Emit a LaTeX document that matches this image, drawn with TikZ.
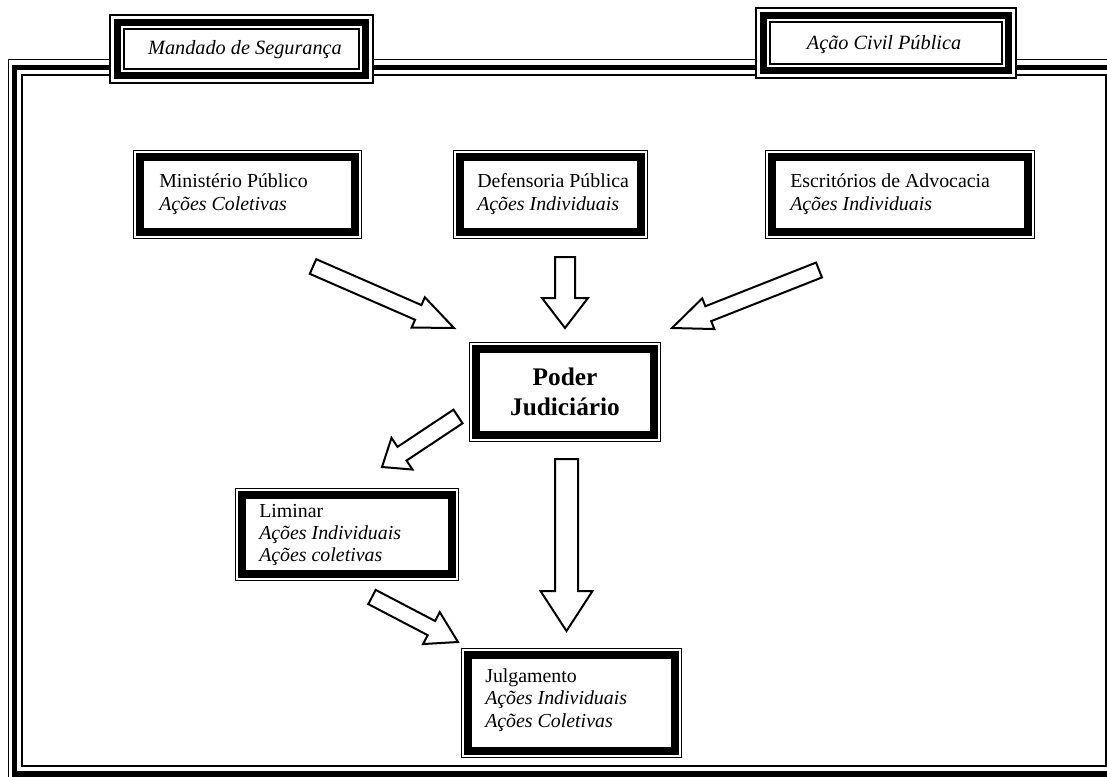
\documentclass[tikz,border=0pt]{standalone}
\usepackage{fontspec}
\setmainfont{Liberation Serif}
\newcommand{\blockarrow}[7]{%
 \pgfmathsetmacro\bdx{#3-#1}%
 \pgfmathsetmacro\bdy{#4-#2}%
 \pgfmathsetmacro\blen{veclen(\bdx,\bdy)}%
 \pgfmathsetmacro\bang{atan2(-\bdy,\bdx)}%
 \pgfmathsetmacro\bneck{\blen-#7}%
 \begin{scope}[shift={(#1,#2)}, rotate=\bang]
  \draw[arrowline] (0,-#5) -- (\bneck,-#5) -- (\bneck,-#6) -- (\blen,0) -- (\bneck,#6) -- (\bneck,#5) -- (0,#5) -- cycle;
 \end{scope}}
\newcommand{\lbox}[5]{%
 \draw[line width=1.1pt, fill=white] ({#2+1},{#3+1}) rectangle ({#4-1},{#5-1});
 \draw[line width=4.9pt] ({#2+8.5},{#3+8.5}) rectangle ({#4-8.5},{#5-8.5});
 \draw[line width=1.3pt] ({#2+15},{#3+15}) rectangle ({#4-15},{#5-15});
 \coordinate (#1) at ({(#2+#4)/2},{(#3+#5)/2});}
\newcommand{\cbox}[5]{%
 \draw[line width=1.1pt, fill=white] ({#2+0.75},{#3+0.75}) rectangle ({#4-0.75},{#5-0.75});
 \draw[line width=5.8pt] ({#2+6.9},{#3+6.9}) rectangle ({#4-6.9},{#5-6.9});
 \coordinate (#1) at ({(#2+#4)/2},{(#3+#5)/2});}
\begin{document}
\begin{tikzpicture}[x=0.75pt,y=-0.75pt,
  txt/.style={font=\fontsize{14.9}{16.8}\selectfont, inner sep=0pt, align=left},
  lbl/.style={font=\fontsize{15.2}{16.8}\selectfont\itshape, inner sep=0pt},
  big/.style={font=\fontsize{19}{22.5}\selectfont\bfseries, inner sep=0pt, align=center},
  arrowline/.style={draw=black, fill=white, line width=1.5pt, line join=miter},
]
\useasboundingbox (0,0) rectangle (1107,776);
\clip (0,0) rectangle (1107,776);
% outer frame
\draw[line width=0.8pt] (8.5,59.5) rectangle (1122,790);
\draw[line width=3.9pt] (14.8,67.4) rectangle (1113.5,774);
\draw[line width=1.5pt] (22,74.8) rectangle (1106.2,766);
% label boxes
\lbox{msbox}{109}{14}{374}{84}
\node[lbl] (ms) at (245,50) {Mandado de Segurança};
\lbox{acpbox}{755}{7}{1017}{79}
\node[lbl] (acp) at (884,45) {Ação Civil Pública};
% content boxes
\cbox{mp}{133}{150}{362}{239}
\cbox{dp}{453}{150}{648}{239}
\cbox{ea}{765}{150}{1035}{239}
\cbox{pj}{469}{342}{661}{442}
\cbox{lim}{235}{488}{459}{581}
\cbox{jul}{461}{648}{682}{758}
\node[txt, anchor=west] (mpt) at (159,194) {Ministério Público\\\textit{Ações Coletivas}};
\node[txt, anchor=west] (dpt) at (477,194) {Defensoria Pública\\\textit{Ações Individuais}};
\node[txt, anchor=west] (eat) at (790,194) {Escritórios de Advocacia\\\textit{Ações Individuais}};
\node[big] (pjt) at (565,392) {Poder\\Judiciário};
\node[txt, anchor=west] (limt) at (259,535) {Liminar\\\textit{Ações Individuais}\\\textit{Ações coletivas}};
\node[txt, anchor=west] (jult) at (485,700) {Julgamento\\\textit{Ações Individuais}\\\textit{Ações Coletivas}};
% block arrows
\blockarrow{313}{266.5}{454}{328}{8}{16.5}{39}
\blockarrow{565}{257}{565}{328}{10}{23}{30}
\blockarrow{819}{270}{672}{328}{8}{16.5}{39}
\blockarrow{458}{416.5}{382}{467}{8.2}{19}{24}
\blockarrow{566.5}{459}{566.5}{631}{11.5}{26}{40}
\blockarrow{372}{597}{458}{642}{8}{18}{30}
\end{tikzpicture}
\end{document}
